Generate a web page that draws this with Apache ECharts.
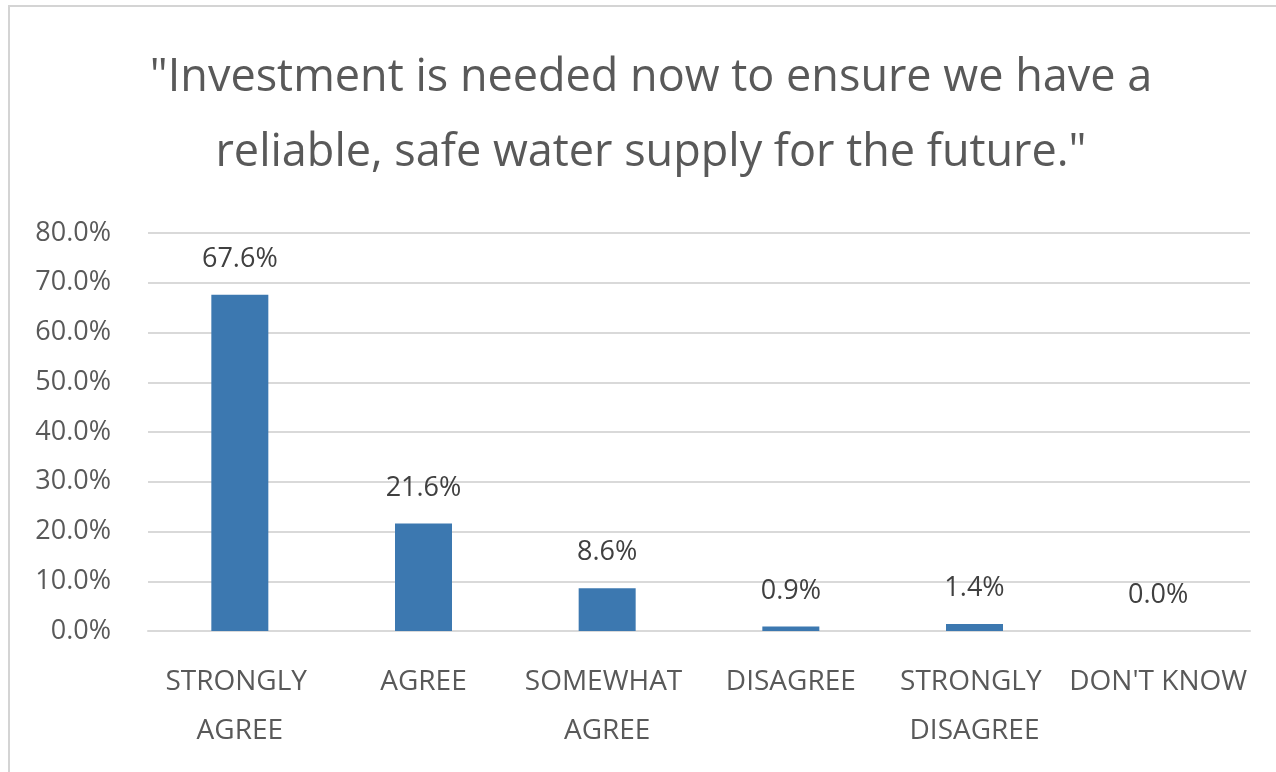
<!DOCTYPE html>
<html>
<head>
<meta charset="utf-8">
<style>
  html, body { margin: 0; padding: 0; background: #ffffff; }
  #chart { width: 1276px; height: 772px; }
</style>
<script src="https://cdn.jsdelivr.net/npm/echarts@6/dist/echarts.min.js"></script>
</head>
<body>
<div id="chart"></div>
<script>
const titleLines = ['"Investment is needed now to ensure we have a', 'reliable, safe water supply for the future."'];
const categories = ['STRONGLY AGREE', 'AGREE', 'SOMEWHAT AGREE', 'DISAGREE', 'STRONGLY DISAGREE', "DON'T KNOW"];
const values = [67.6, 21.6, 8.6, 0.9, 1.4, 0.0];
const yTicks = { min: 0, max: 80, interval: 10 };

const FONT = '"Open Sans", "Noto Sans", sans-serif';
const chart = echarts.init(document.getElementById('chart'), null, { renderer: 'canvas' });
chart.setOption({
  backgroundColor: '#ffffff',
  animation: false,
  graphic: [{
    type: 'rect',
    shape: { x: 9, y: 6, width: 1300, height: 800 },
    style: { fill: 'none', stroke: '#d4d4d4', lineWidth: 2 },
    silent: true
  }],
  title: {
    text: titleLines.join('\n'),
    left: 646,
    textAlign: 'center',
    top: 36,
    textStyle: { fontFamily: FONT, fontSize: 45, fontWeight: 'normal', color: '#595959', lineHeight: 75 }
  },
  grid: { left: 148, right: 26, top: 233, bottom: 141, containLabel: false },
  xAxis: {
    type: 'category',
    data: categories,
    axisLine: { show: true, lineStyle: { color: '#d9d9d9', width: 2 } },
    axisTick: { show: false },
    axisLabel: {
      interval: 0,
      margin: 27,
      fontFamily: FONT,
      fontSize: 28,
      color: '#595959',
      lineHeight: 49,
      width: 186,
      overflow: 'break'
    }
  },
  yAxis: {
    type: 'value',
    min: yTicks.min, max: yTicks.max, interval: yTicks.interval,
    axisLine: { show: false },
    axisTick: { show: false },
    splitLine: { lineStyle: { color: '#d9d9d9', width: 2 } },
    axisLabel: {
      margin: 37,
      fontFamily: FONT,
      fontSize: 27,
      color: '#595959',
      formatter: v => v.toFixed(1) + '%'
    }
  },
  series: [{
    type: 'bar',
    data: values,
    barWidth: 57,
    itemStyle: { color: '#3c78b0' },
    label: {
      show: true,
      position: 'top',
      distance: 22,
      fontFamily: FONT,
      fontSize: 27,
      color: '#404040',
      formatter: p => p.value.toFixed(1) + '%'
    }
  }]
});
</script>
</body>
</html>
